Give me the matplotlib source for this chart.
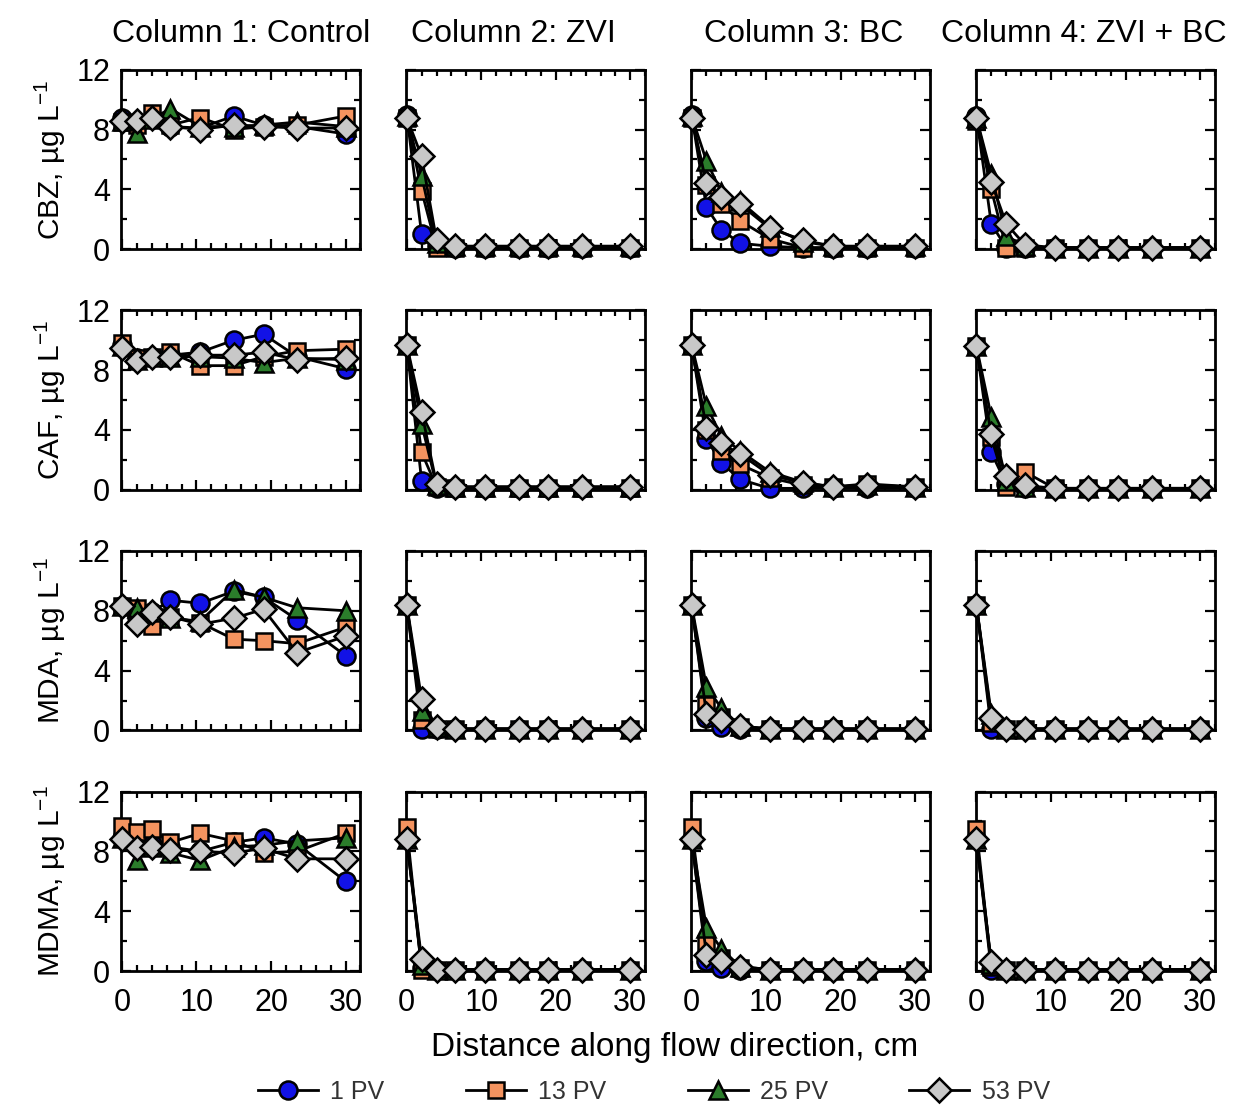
import numpy as np
import matplotlib.pyplot as plt
from matplotlib.ticker import MultipleLocator

plt.rcParams['font.family'] = ['Liberation Sans', 'DejaVu Sans']
plt.rcParams['mathtext.fontset'] = 'custom'
plt.rcParams['mathtext.rm'] = 'Liberation Sans'
plt.rcParams['mathtext.it'] = 'Liberation Sans:italic'
plt.rcParams['mathtext.bf'] = 'Liberation Sans:bold'

# sampling ports along the column, cm
distance = [0, 2, 4, 6.5, 10.5, 15, 19, 23.5, 30]

columns = ['Column 1: Control', 'Column 2: ZVI', 'Column 3: BC', 'Column 4: ZVI + BC']
compounds = ['CBZ', 'CAF', 'MDA', 'MDMA']
pv_labels = ['1 PV', '13 PV', '25 PV', '53 PV']

# concentrations, ug/L; rows = 1, 13, 25, 53 PV
cbz_control = [[8.8, 8.4, 8.7, 8.2, 8.1, 8.9, 8.3, 8.2, 7.7],
               [8.5, 8.3, 9.1, 8.3, 8.8, 8.0, 8.2, 8.3, 8.9],
               [8.6, 7.8, 8.7, 9.4, 8.2, 8.2, 8.3, 8.5, 8.2],
               [8.6, 8.6, 8.8, 8.2, 8.0, 8.3, 8.2, 8.1, 8.1]]
cbz_zvi = [[9.0, 1.0, 0.2, 0.1, 0.1, 0.1, 0.1, 0.1, 0.1],
           [8.8, 3.9, 0.1, 0.1, 0.1, 0.1, 0.1, 0.1, 0.1],
           [8.9, 4.9, 0.4, 0.2, 0.2, 0.2, 0.2, 0.2, 0.2],
           [8.8, 6.2, 0.6, 0.2, 0.2, 0.2, 0.2, 0.2, 0.2]]
cbz_bc = [[9.0, 2.8, 1.3, 0.4, 0.2, 0.1, 0.1, 0.1, 0.1],
          [8.8, 4.3, 3.0, 1.9, 0.7, 0.1, 0.1, 0.1, 0.1],
          [8.9, 5.9, 3.8, 3.2, 1.5, 0.5, 0.2, 0.2, 0.2],
          [8.8, 4.4, 3.5, 3.0, 1.4, 0.6, 0.2, 0.2, 0.2]]
cbz_zvibc = [[8.9, 1.7, 0.1, 0.1, 0.1, 0.1, 0.1, 0.1, 0.1],
             [8.6, 4.0, 0.1, 0.1, 0.1, 0.1, 0.1, 0.1, 0.1],
             [8.8, 5.0, 0.9, 0.2, 0.1, 0.1, 0.1, 0.1, 0.1],
             [8.8, 4.5, 1.7, 0.3, 0.1, 0.1, 0.1, 0.1, 0.1]]

caf_control = [[9.7, 8.8, 8.9, 9.0, 9.2, 10.0, 10.4, 8.9, 8.1],
               [9.8, 8.8, 8.9, 9.2, 8.3, 8.3, 8.9, 9.3, 9.4],
               [9.6, 8.7, 8.9, 8.9, 8.9, 8.8, 8.5, 8.8, 8.7],
               [9.5, 8.6, 8.9, 8.9, 9.0, 9.0, 9.2, 8.7, 8.8]]
caf_zvi = [[9.7, 0.6, 0.1, 0.1, 0.1, 0.1, 0.1, 0.1, 0.1],
           [9.7, 2.5, 0.2, 0.1, 0.1, 0.1, 0.1, 0.1, 0.1],
           [9.7, 4.4, 0.3, 0.2, 0.2, 0.2, 0.2, 0.2, 0.2],
           [9.7, 5.2, 0.4, 0.2, 0.2, 0.2, 0.2, 0.2, 0.2]]
caf_bc = [[9.7, 3.4, 1.8, 0.7, 0.1, 0.1, 0.1, 0.1, 0.1],
          [9.7, 4.0, 2.6, 1.7, 0.8, 0.3, 0.2, 0.4, 0.2],
          [9.7, 5.6, 3.6, 2.6, 1.2, 0.5, 0.2, 0.3, 0.2],
          [9.7, 4.1, 3.1, 2.4, 1.0, 0.45, 0.2, 0.3, 0.2]]
caf_zvibc = [[9.6, 2.5, 0.4, 0.1, 0.1, 0.1, 0.1, 0.1, 0.1],
             [9.6, 3.5, 0.2, 1.2, 0.1, 0.1, 0.1, 0.1, 0.1],
             [9.6, 4.9, 0.6, 0.2, 0.1, 0.1, 0.1, 0.1, 0.1],
             [9.6, 3.7, 0.9, 0.3, 0.1, 0.1, 0.1, 0.1, 0.1]]

mda_control = [[8.3, 7.6, 7.9, 8.7, 8.5, 9.3, 8.9, 7.4, 5.0],
               [8.3, 8.2, 7.0, 7.6, 7.2, 6.1, 6.0, 5.8, 6.9],
               [8.3, 8.2, 7.9, 7.5, 7.3, 9.4, 8.9, 8.2, 8.0],
               [8.3, 7.1, 7.9, 7.6, 7.1, 7.5, 8.1, 5.2, 6.3]]
mda_zvi = [[8.4, 0.1, 0.1, 0.1, 0.1, 0.1, 0.1, 0.1, 0.1],
           [8.4, 0.7, 0.1, 0.1, 0.1, 0.1, 0.1, 0.1, 0.1],
           [8.4, 1.3, 0.2, 0.1, 0.1, 0.1, 0.1, 0.1, 0.1],
           [8.4, 2.1, 0.2, 0.1, 0.1, 0.1, 0.1, 0.1, 0.1]]
mda_bc = [[8.4, 0.8, 0.2, 0.1, 0.1, 0.1, 0.1, 0.1, 0.1],
          [8.4, 1.7, 0.9, 0.2, 0.1, 0.1, 0.1, 0.1, 0.1],
          [8.4, 2.9, 1.5, 0.3, 0.1, 0.1, 0.1, 0.1, 0.1],
          [8.4, 1.1, 0.7, 0.3, 0.1, 0.1, 0.1, 0.1, 0.1]]
mda_zvibc = [[8.4, 0.1, 0.1, 0.1, 0.1, 0.1, 0.1, 0.1, 0.1],
             [8.4, 0.5, 0.1, 0.1, 0.1, 0.1, 0.1, 0.1, 0.1],
             [8.4, 1.1, 0.1, 0.1, 0.1, 0.1, 0.1, 0.1, 0.1],
             [8.4, 0.8, 0.1, 0.1, 0.1, 0.1, 0.1, 0.1, 0.1]]

mdma_control = [[8.9, 8.3, 8.5, 8.3, 8.0, 8.6, 8.9, 8.5, 6.0],
                [9.7, 9.3, 9.5, 8.6, 9.2, 8.7, 7.9, 8.0, 9.2],
                [8.9, 7.4, 8.3, 7.9, 7.4, 8.3, 8.4, 8.7, 8.9],
                [8.8, 8.2, 8.3, 8.1, 8.0, 7.9, 8.2, 7.5, 7.5]]
mdma_zvi = [[8.8, 0.2, 0.1, 0.1, 0.1, 0.1, 0.1, 0.1, 0.1],
            [9.6, 0.1, 0.1, 0.1, 0.1, 0.1, 0.1, 0.1, 0.1],
            [8.8, 0.4, 0.1, 0.1, 0.1, 0.1, 0.1, 0.1, 0.1],
            [8.8, 0.8, 0.1, 0.1, 0.1, 0.1, 0.1, 0.1, 0.1]]
mdma_bc = [[8.8, 0.7, 0.2, 0.1, 0.1, 0.1, 0.1, 0.1, 0.1],
           [9.6, 1.8, 0.9, 0.2, 0.1, 0.1, 0.1, 0.1, 0.1],
           [8.8, 2.9, 1.5, 0.3, 0.1, 0.1, 0.1, 0.1, 0.1],
           [8.8, 1.1, 0.7, 0.3, 0.1, 0.1, 0.1, 0.1, 0.1]]
mdma_zvibc = [[8.8, 0.1, 0.1, 0.1, 0.1, 0.1, 0.1, 0.1, 0.1],
              [9.5, 0.3, 0.1, 0.1, 0.1, 0.1, 0.1, 0.1, 0.1],
              [8.8, 0.5, 0.1, 0.1, 0.1, 0.1, 0.1, 0.1, 0.1],
              [8.8, 0.6, 0.1, 0.1, 0.1, 0.1, 0.1, 0.1, 0.1]]

grid = [[cbz_control, cbz_zvi, cbz_bc, cbz_zvibc],
        [caf_control, caf_zvi, caf_bc, caf_zvibc],
        [mda_control, mda_zvi, mda_bc, mda_zvibc],
        [mdma_control, mdma_zvi, mdma_bc, mdma_zvibc]]

# marker styles for each pore volume
styles = [dict(marker='o', mfc='#1212e6', ms=13),
          dict(marker='s', mfc='#f4935f', ms=12),
          dict(marker='^', mfc='#2b7d2b', ms=13),
          dict(marker='D', mfc='#c8c8c8', ms=12)]

# title centres, slightly left of the panel centre as in the original
title_x = [0.5, 0.45, 0.47, 0.45]

fig, axes = plt.subplots(4, 4, figsize=(12.36, 11.06), dpi=100)
fig.subplots_adjust(left=0.098, right=0.983, top=0.937, bottom=0.122,
                    wspace=0.19, hspace=0.34)

for i in range(4):
    for j in range(4):
        ax = axes[i, j]
        for k in range(4):
            ax.plot(distance, grid[i][j][k], color='black', lw=2,
                    mec='black', mew=1.8, label=pv_labels[k], **styles[k],
                    clip_on=False, zorder=3 + k)
        ax.set_xlim(-0.1, 32)
        ax.set_ylim(0, 12)
        ax.xaxis.set_major_locator(MultipleLocator(10))
        ax.xaxis.set_minor_locator(MultipleLocator(2))
        ax.yaxis.set_major_locator(MultipleLocator(4))
        ax.yaxis.set_minor_locator(MultipleLocator(2))
        ax.tick_params(which='both', direction='in', top=True, right=True,
                       width=1.6, labelsize=22)
        ax.tick_params(which='major', length=7)
        ax.tick_params(which='minor', length=4)
        ax.tick_params(axis='x', pad=12)
        ax.tick_params(axis='y', pad=8)
        for sp in ax.spines.values():
            sp.set_linewidth(2)
        if j > 0:
            ax.tick_params(labelleft=False)
        else:
            ax.set_ylabel(compounds[i] + ', \u00b5g L$^{-1}$', fontsize=21.5, labelpad=6)
        if i < 3:
            ax.tick_params(labelbottom=False)
        if i == 0:
            ax.set_title(columns[j], fontsize=23, pad=20, x=title_x[j])

fig.text(0.546, 0.053, 'Distance along flow direction, cm', ha='center',
         va='center', fontsize=24)

handles, labels = axes[0, 0].get_legend_handles_labels()
fig.legend(handles, labels, loc='center', bbox_to_anchor=(0.529, 0.013),
           ncol=4, frameon=False, fontsize=18, handlelength=2.4,
           columnspacing=3.25, handletextpad=0.5, labelcolor='#333333')

fig.savefig('out.png', dpi=100)
